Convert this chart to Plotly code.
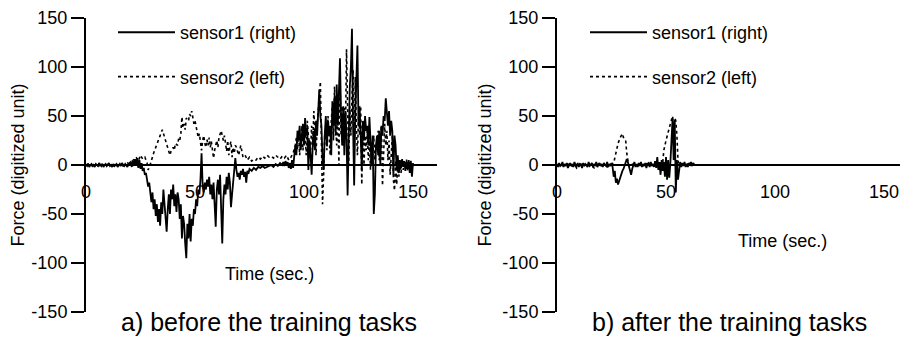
import plotly.graph_objects as go

# ---------------- data ----------------
# a) before the training tasks
t_a_s1 = [0, 0.5, 1, 1.5, 2, 2.5, 3, 3.5, 4, 4.5, 5, 5.5, 6, 6.5, 7, 7.5, 8, 8.5, 9, 9.5,
          10, 10.5, 11, 11.5, 12, 12.5, 13, 13.5, 14, 14.5, 15, 15.5, 16, 16.5, 17, 17.5, 18, 18.5, 19, 19.5,
          20, 20.5, 21, 21.5, 22, 22.5, 23, 23.5, 24, 24.5, 25, 25.5, 26, 26.5, 27, 27.5, 28, 28.5, 29, 29.5,
          30, 30.5, 31, 31.5, 32, 32.5, 33, 33.5, 34, 34.5, 35, 35.5, 36, 36.5, 37, 37.5, 38, 38.5, 39, 39.5,
          40, 40.5, 41, 41.5, 42, 42.5, 43, 43.5, 44, 44.5, 45, 45.5, 46, 46.5, 47, 47.5, 48, 48.5, 49, 49.5,
          50, 50.5, 51, 51.5, 52, 52.5, 53, 53.5, 54, 54.5, 55, 55.5, 56, 56.5, 57, 57.5, 58, 58.5, 59, 59.5,
          60, 60.5, 61, 61.5, 62, 62.5, 63, 63.5, 64, 64.5, 65, 65.5, 66, 66.5, 67, 67.5, 68, 68.5, 69, 69.5,
          70, 70.5, 71, 71.5, 72, 72.5, 73, 73.5, 74, 74.5, 75, 76, 77, 78, 79, 80, 81, 82, 83, 84,
          85, 86, 87, 88, 89, 90, 90.5, 91, 91.5, 92, 92.5, 93, 93.5, 94, 94.5, 95, 95.5, 96, 96.5, 97,
          97.5, 98, 98.5, 99, 99.5, 100, 100.5, 101, 101.5, 102, 102.5, 103, 103.5, 104, 104.5, 105, 105.5, 106, 106.5, 107,
          107.5, 108, 108.5, 109, 109.5, 110, 110.5, 111, 111.5, 112, 112.5, 113, 113.5, 114, 114.5, 115, 115.5, 116, 116.5, 117,
          117.5, 118, 118.5, 119, 119.5, 120, 120.5, 121, 121.5, 122, 122.5, 123, 123.5, 124, 124.5, 125, 125.5, 126, 126.5, 127,
          127.5, 128, 128.5, 129, 129.5, 130, 130.5, 131, 131.5, 132, 132.5, 133, 133.5, 134, 134.5, 135, 135.5, 136, 136.5, 137,
          137.5, 138, 138.5, 139, 139.5, 140, 140.5, 141, 141.5, 142, 142.5, 143, 143.5, 144, 144.5, 145, 145.5, 146, 146.5, 147,
          147.5, 148, 148.5, 149, 149.5, 150]
v_a_s1 = [0, -1, 1, -2, 0, 1, -1, 0, -2, 1, 0, -1, 2, 0, -1, 1, -2, 0, 1, -1,
          0, 2, -1, 0, -2, 1, -1, 0, 1, -2, 0, 1, -1, 2, 0, -1, 1, 0, -2, 1,
          2, 3, -2, 4, -1, 6, 0, 7, -3, 5, -4, 2, -6, -3, -10, -8, -15, -22, -18, -30,
          -38, -28, -45, -35, -52, -40, -58, -45, -62, -38, -50, -25, -40, -55, -68, -45, -30, -50, -25, -35,
          -20, -42, -30, -48, -28, -35, -55, -40, -75, -52, -60, -80, -95, -60, -75, -50, -78, -55, -62, -45,
          -50, -35, -42, -25, -30, -15, 12, -20, -28, -18, -25, -15, -22, -12, -30, -20, -35, -18, -45, -63,
          -25, -15, -30, -10, -45, -80, -35, -20, -30, -12, -25, -8, -18, -43, -30, -15, -5, 7, -5, -12,
          -8, -15, -6, -10, -4, -12, -7, -18, -6, -9, -4, -6, -3, -5, -2, -3, -1, -3, -2, -1,
          0, -2, 1, -1, 2, 0, 3, -1, 4, 0, 3, -3, 2, -4, 5, -3, 8, 20, 10, 35,
          25, 40, 15, 30, 42, 20, 48, 30, 38, -5, 25, 10, -10, 20, 35, 15, 45, 30, 60, 77,
          50, 40, 5, -5, 30, 50, 20, 45, 30, 40, 10, 65, 40, 70, 30, 82, 40, 70, 109, 50,
          20, 60, 10, 55, 30, -31, 40, 80, 100, 139, 40, -21, 50, 90, 122, 40, 60, 30, -5, 45,
          25, 50, 35, 40, 20, 49, 25, 0, 30, -50, -30, 20, 30, 10, 35, 0, 40, 30, 50, 45,
          68, 50, 40, 55, 30, 45, 35, -10, 30, 20, -5, 10, -8, 5, -3, 6, -2, 4, -6, 3,
          -4, 5, -8, 4, -12, 2]

t_a_s2 = [0, 1, 2, 3, 4, 5, 6, 7, 8, 9, 10, 11, 12, 13, 14, 15, 16, 17, 18, 19,
          20, 21, 22, 23, 24, 25, 26, 27, 28, 28.5, 29, 30, 31, 32, 33, 34, 35, 35.5, 36, 37,
          38, 38.5, 39, 40, 40.5, 41, 42, 42.5, 43, 43.5, 44, 44.5, 45, 45.5, 46, 47, 47.5, 48, 48.5, 49,
          49.5, 50, 51, 51.5, 52, 52.5, 53, 53.5, 54, 54.5, 55, 55.5, 56, 56.5, 57, 57.5, 58, 58.5, 59, 59.5,
          60, 60.5, 61, 62, 62.5, 63, 63.5, 64, 64.5, 65, 65.5, 66, 66.5, 67, 67.5, 68, 68.5, 69, 70, 71,
          71.5, 72, 73, 74, 75, 76, 77, 78, 79, 80, 81, 82, 83, 84, 85, 86, 87, 88, 89, 90,
          91, 92, 93, 94, 95, 96, 96.5, 97, 97.5, 98, 98.5, 99, 99.5, 100, 100.5, 101, 101.5, 102, 103, 103.5,
          104, 104.5, 105, 105.5, 106, 106.5, 107, 107.5, 108, 108.5, 109, 109.5, 110, 110.5, 111, 111.5, 112, 112.5, 113, 113.5,
          114, 114.5, 115, 115.5, 116, 116.5, 117, 117.5, 118, 118.5, 119, 119.5, 120, 120.5, 121, 121.5, 122, 122.5, 123, 123.5,
          124, 124.5, 125, 125.5, 126, 126.5, 127, 127.5, 128, 128.5, 129, 129.5, 130, 130.5, 131, 131.5, 132, 132.5, 133, 133.5,
          134, 134.5, 135, 135.5, 136, 136.5, 137, 137.5, 138, 138.5, 139, 139.5, 140, 140.5, 141, 141.5, 142, 142.5, 143, 143.5,
          144, 144.5, 145, 145.5, 146, 146.5, 147, 147.5, 148, 148.5, 149]
v_a_s2 = [0, 1, -1, 0, 1, 0, -1, 1, 0, -1, 0, 1, 0, -1, 1, 0, 1, -1, 0, 2,
          1, 3, 6, 8, 4, 10, 6, 8, 2, -5, -3, 5, 12, 18, 25, 30, 36, 32, 28, 20,
          14, 10, 14, 18, 15, 22, 20, 27, 25, 32, 49, 38, 42, 36, 48, 45, 52, 50, 55, 50,
          42, 45, 35, 28, 32, 22, 15, 25, 30, 22, 18, 26, 20, 28, 18, 24, 12, 7, 15, 20,
          25, 18, 28, 35, 30, 25, 30, 22, 14, 25, 10, 20, 24, 8, 18, 12, 20, 18, 10, 20,
          15, 8, 10, 5, 8, 4, 6, 5, 8, 6, 9, 7, 10, 8, 9, 7, 10, 8, 6, 9,
          7, 10, 5, 8, 12, 20, 28, 15, 35, 10, 30, 40, 15, 25, 35, 10, 45, 30, 15, 40,
          20, 55, 30, 10, 40, 60, 70, 85, 20, -40, -10, 30, 40, 15, 50, 20, 10, 45, 60, 25,
          80, 40, 20, 65, 0, 90, 30, 60, 20, 60, 30, 118, 40, 0, 60, 30, 70, 97, 20, 90,
          40, 10, 50, 30, 60, -20, 45, 0, 30, 15, 35, 5, 25, -5, 20, 10, 30, 5, 20, 15,
          35, 5, 28, 40, -21, 15, 42, 20, 35, 5, 25, -10, 15, 30, -15, -26, 5, -20, 0, -12,
          5, -8, 3, -5, 4, -2, 6, -6, 3, -4, 5]

# b) after the training tasks
t_b_s1 = [0, 0.5, 1, 1.5, 2, 2.5, 3, 3.5, 4, 4.5, 5, 5.5, 6, 6.5, 7, 7.5, 8, 8.5, 9, 9.5,
          10, 10.5, 11, 11.5, 12, 12.5, 13, 13.5, 14, 14.5, 15, 15.5, 16, 16.5, 17, 17.5, 18, 18.5, 19, 19.5,
          20, 20.5, 21, 21.5, 22, 22.5, 23, 23.5, 24, 24.5, 25, 25.5, 26, 26.5, 27, 27.5, 28, 28.5, 29, 29.5,
          30, 30.5, 31, 31.5, 32, 32.5, 33, 33.5, 34, 34.5, 35, 35.5, 36, 36.5, 37, 37.5, 38, 38.5, 39, 39.5,
          40, 40.5, 41, 41.5, 42, 42.5, 43, 43.5, 44, 44.5, 45, 45.5, 46, 46.5, 47, 47.5, 48, 48.5, 49, 49.5,
          50, 50.5, 51, 51.5, 52, 52.5, 53, 53.5, 54, 54.5, 55, 55.5, 56, 56.5, 57, 57.5, 58, 58.5, 59, 59.5,
          60, 60.5, 61, 61.5, 62, 62.5, 63]
v_b_s1 = [1, -2, 2, -1, 0, 3, -2, 1, -1, 2, -3, 0, 2, -1, 1, -2, 3, 0, -1, 2,
          -2, 1, 0, -3, 2, -1, 1, 0, -2, 3, -1, 0, 2, -2, 1, -1, 3, -2, 0, 2,
          -1, 1, -2, 2, 0, -1, 3, -2, 1, -1, 2, -2, -12, -6, -18, -14, -20, -16, -12, -10,
          -6, -4, 0, 3, 6, 3, -2, -8, -10, -4, 0, 3, -2, 1, -2, 2, -1, 3, -2, 1,
          -1, 2, -3, 1, 2, -2, 3, -1, 1, -2, 4, -3, 8, -5, 3, -10, 5, -6, 3, -12,
          8, -15, 5, -13, 2, 20, 47, 5, 45, -28, 5, -15, -3, 3, -2, 2, -1, 3, -2, 1,
          -2, 2, 0, 3, -1, 2, 0]

t_b_s2 = [0, 1, 2, 3, 4, 5, 6, 7, 8, 9, 10, 11, 12, 13, 14, 15, 16, 17, 18, 19,
          20, 21, 22, 23, 24, 25, 26, 27, 28, 29, 30, 30.5, 31, 31.5, 32, 32.5, 33, 34, 35, 36,
          37, 38, 39, 40, 41, 42, 43, 44, 45, 46, 47, 48, 48.5, 49, 50, 51, 52, 53, 53.5, 54,
          54.5, 55, 55.5, 56, 57, 58, 59, 60, 61, 62]
v_b_s2 = [0, 1, -1, 0, -2, 1, 0, -1, 1, -3, 0, 1, -1, 0, -2, 1, -1, -3, 0, 1,
          -1, 0, 1, -2, 0, 1, 2, 12, 22, 28, 32, 28, 26, 25, 12, 2, -2, 0, 1, -1,
          0, 1, -1, 0, 2, -1, 1, 0, 2, 1, 3, 0, 2, 15, 25, 35, 42, 50, 40, 48,
          45, 30, 5, 0, 1, -1, 0, 1, -1, 0]

x_ticks = [0, 50, 100, 150]
y_ticks = [-150, -100, -50, 0, 50, 100, 150]
y_tick_text = ["-150", "-100", "-50", "0", "50", "100", "150"]
names = ["sensor1 (right)", "sensor2 (left)"]
titles = ["a) before the training tasks", "b) after the training tasks"]
x_title = "Time (sec.)"
y_title = "Force (digitized unit)"

# ---------------- figure ----------------
FONT = "Liberation Sans, Arial, sans-serif"
OFF = 8  # page body margin offset
fig = go.Figure()

def add_pair(ts1, vs1, ts2, vs2, xa, ya, leg):
    fig.add_trace(go.Scatter(x=ts1, y=vs1, mode="lines", name=names[0],
                             line=dict(color="black", width=1.8),
                             xaxis=xa, yaxis=ya, legend=leg, legendgroup=leg + "a"))
    fig.add_trace(go.Scatter(x=ts2, y=vs2, mode="lines", name=names[1],
                             line=dict(color="black", width=1.6, dash="dot"),
                             xaxis=xa, yaxis=ya, legend=leg, legendgroup=leg + "b"))

add_pair(t_a_s1, v_a_s1, t_a_s2, v_a_s2, "x", "y", "legend")
add_pair(t_b_s1, v_b_s1, t_b_s2, v_b_s2, "x2", "y2", "legend2")

W, H = 908 - OFF, 343 - OFF
ML, MR, MT, MB = 86 - OFF, 0, 13 - OFF, 31
PW, PH = W - ML - MR, H - MT - MB

def px_x(p):
    return (p - OFF - ML) / PW

def px_y(p):
    return (H - MB - (p - OFF)) / PH

dom1 = [0, px_x(437)]
dom2 = [px_x(557), 1]

xcommon = dict(range=[0, 161], anchor="free", position=0.5, showline=True,
               linecolor="black", linewidth=2, ticks="", tickvals=x_ticks,
               showgrid=False, zeroline=False, tickfont=dict(size=18, color="black"),
               ticklabelstandoff=10, ticklabeloverflow="allow")
ycommon = dict(range=[-150, 150], domain=[0, 1], showline=True, linecolor="black",
               linewidth=2, ticks="outside", ticklen=13, tickwidth=1.5, tickcolor="black",
               tickvals=y_ticks, ticktext=y_tick_text, showgrid=False, zeroline=False,
               tickfont=dict(size=18, color="black"), ticklabeloverflow="allow")

legcommon = dict(font=dict(size=18, color="black", family=FONT), bgcolor="rgba(0,0,0,0)",
                 xanchor="left", yanchor="top", tracegroupgap=18, itemwidth=57)

fig.update_layout(
    width=W, height=H,
    margin=dict(l=ML, r=MR, t=MT, b=MB),
    paper_bgcolor="white", plot_bgcolor="white",
    font=dict(family=FONT, color="black"),
    xaxis=dict(domain=dom1, **xcommon),
    xaxis2=dict(domain=dom2, **xcommon),
    yaxis=dict(anchor="x", title=dict(text=y_title, font=dict(size=18), standoff=8), **ycommon),
    yaxis2=dict(anchor="x2", title=dict(text=y_title, font=dict(size=18), standoff=6), **ycommon),
    legend=dict(x=px_x(113), y=px_y(9), **legcommon),
    legend2=dict(x=px_x(585), y=px_y(9), **legcommon),
    showlegend=True,
)

for txt, cx in [(titles[0], 269), (titles[1], 729)]:
    fig.add_annotation(text=txt, xref="paper", yref="paper", x=px_x(cx), y=px_y(322),
                       showarrow=False, xanchor="center", yanchor="middle",
                       font=dict(size=25, color="black"))
fig.add_annotation(text=x_title, xref="paper", yref="paper", x=px_x(269), y=px_y(273),
                   showarrow=False, xanchor="center", yanchor="middle",
                   font=dict(size=18, color="black"))
fig.add_annotation(text=x_title, xref="paper", yref="paper", x=px_x(782), y=px_y(240),
                   showarrow=False, xanchor="center", yanchor="middle",
                   font=dict(size=18, color="black"))

fig.write_html("out.html")
